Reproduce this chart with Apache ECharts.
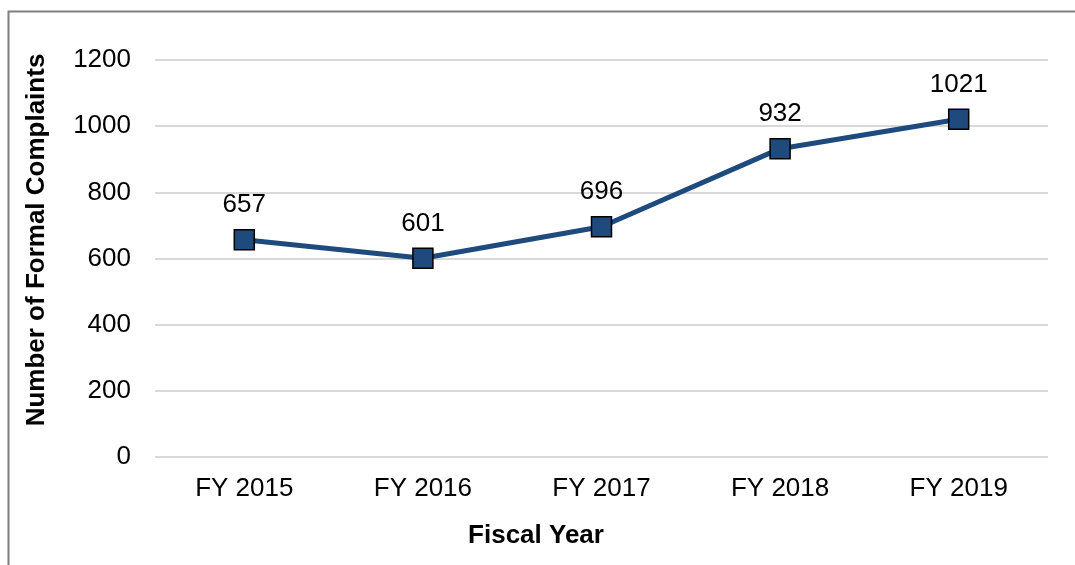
<!DOCTYPE html>
<html>
<head>
<meta charset="utf-8">
<script src="https://cdn.jsdelivr.net/npm/echarts@6/dist/echarts.min.js"></script>
<style>
  html, body { margin: 0; padding: 0; background: #fff; }
  #box { width: 1075px; height: 565px; }
</style>
</head>
<body>
<div id="box"></div>
<script>
var years = ['FY 2015', 'FY 2016', 'FY 2017', 'FY 2018', 'FY 2019'];
var complaints = [657, 601, 696, 932, 1021];
var xTitle = 'Fiscal Year';
var yTitle = 'Number of Formal Complaints';

var myChart = echarts.init(document.getElementById('box'));
var font = '"Liberation Sans", Arial, sans-serif';

var option = {
    backgroundColor: '#fff',
    // outer frame and axis titles (titles are centred on the chart area, not the plot)
    graphic: [{
        type: 'rect',
        shape: { x: 8.5, y: 11.5, width: 1100, height: 600 },
        style: { fill: 'none', stroke: '#7f7f7f', lineWidth: 2 },
        silent: true
    }, {
        type: 'text',
        x: 536,
        y: 536,
        style: {
            text: xTitle,
            fill: '#000',
            font: 'bold 26px ' + font,
            align: 'center',
            verticalAlign: 'middle'
        },
        silent: true
    }, {
        type: 'text',
        x: 37,
        y: 240,
        rotation: Math.PI / 2,
        style: {
            text: yTitle,
            fill: '#000',
            font: 'bold 26px ' + font,
            align: 'center',
            verticalAlign: 'middle'
        },
        silent: true
    }],
    grid: {
        left: 155,
        right: 27,
        top: 60,
        bottom: 108
    },
    xAxis: {
        type: 'category',
        data: years,
        boundaryGap: true,
        axisLine: { show: false },
        axisTick: { show: false },
        axisLabel: {
            color: '#000',
            fontFamily: font,
            fontSize: 26,
            margin: 19
        }
    },
    yAxis: {
        type: 'value',
        min: 0,
        max: 1200,
        interval: 200,
        axisLine: { show: false },
        axisTick: { show: false },
        splitLine: { lineStyle: { color: '#d9d9d9', width: 2 } },
        axisLabel: {
            color: '#000',
            fontFamily: font,
            fontSize: 26,
            margin: 24,
            formatter: function (v) { return String(v); }
        }
    },
    series: [{
        type: 'line',
        data: complaints,
        symbol: 'rect',
        symbolSize: 20,
        lineStyle: { color: '#1F4A7D', width: 5 },
        itemStyle: { color: '#1F4A7D', borderColor: '#000', borderWidth: 1.5 },
        label: {
            show: true,
            position: 'top',
            distance: 11,
            color: '#000',
            fontFamily: font,
            fontSize: 26
        },
        emphasis: { disabled: true },
        animation: false
    }]
};
myChart.setOption(option);
</script>
</body>
</html>
